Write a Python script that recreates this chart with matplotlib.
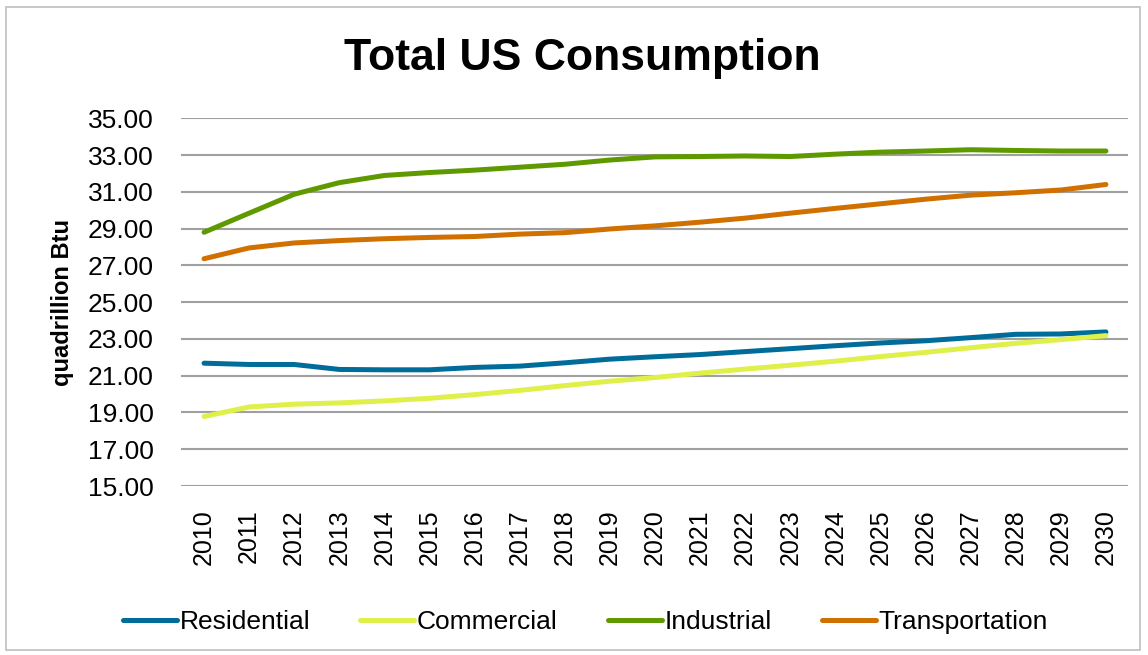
import matplotlib
matplotlib.use("Agg")
import matplotlib.pyplot as plt
from matplotlib.patches import Rectangle

# データ (quadrillion Btu)
years = [str(y) for y in range(2010, 2031)]
residential = [21.68, 21.61, 21.61, 21.34, 21.32, 21.32, 21.45, 21.52, 21.70, 21.90, 22.03,
               22.15, 22.31, 22.47, 22.63, 22.78, 22.90, 23.07, 23.25, 23.27, 23.38]
commercial = [18.78, 19.30, 19.45, 19.52, 19.63, 19.77, 19.97, 20.20, 20.46, 20.70, 20.90,
              21.14, 21.36, 21.57, 21.79, 22.04, 22.27, 22.52, 22.76, 22.96, 23.18]
industrial = [28.80, 29.84, 30.87, 31.50, 31.89, 32.05, 32.18, 32.34, 32.50, 32.73, 32.90,
              32.92, 32.95, 32.92, 33.05, 33.16, 33.22, 33.29, 33.25, 33.22, 33.22]
transportation = [27.36, 27.95, 28.22, 28.35, 28.45, 28.52, 28.57, 28.70, 28.78, 28.98, 29.15,
                  29.35, 29.57, 29.84, 30.10, 30.35, 30.60, 30.82, 30.95, 31.10, 31.40]

series = [
    ("Residential", residential, "#006C9A"),
    ("Commercial", commercial, "#E0F04A"),
    ("Industrial", industrial, "#5F9900"),
    ("Transportation", transportation, "#D07000"),
]

plt.rcParams["font.family"] = ["Liberation Sans", "DejaVu Sans"]

fig = plt.figure(figsize=(11.48, 6.55), dpi=100)
ax = fig.add_axes([0.1581, 0.258, 0.8249, 0.5614])

x = list(range(len(years)))
for name, vals, color in series:
    ax.plot(x, vals, color=color, lw=3.6, label=name, solid_capstyle="round",
            solid_joinstyle="round", clip_on=False, zorder=3)

ax.set_xlim(-0.5, len(years) - 0.5)
ax.set_ylim(15, 35)
ax.set_yticks(range(15, 36, 2))
ax.set_yticklabels([f"{v:.2f}" for v in range(15, 36, 2)], fontsize=19)
ax.set_xticks(x)
ax.set_xticklabels(years, rotation=90, fontsize=18)
ax.tick_params(axis="y", length=0, pad=20)
ax.tick_params(axis="x", length=0, pad=17)
ax.grid(axis="y", color="#A0A0A0", lw=1.5)
ax.set_axisbelow(True)
for s in ax.spines.values():
    s.set_visible(False)

ax.set_ylabel("quadrillion Btu", fontsize=17, fontweight="bold")
ax.yaxis.set_label_coords(-0.113, 0.5)

fig.text(0.507, 0.91, "Total US Consumption", fontsize=32, fontweight="bold",
         ha="center", va="center")

fig.legend(loc="center", bbox_to_anchor=(0.51, 0.05), ncol=4, frameon=False,
           fontsize=19, handlelength=2.05, handletextpad=0.1, columnspacing=1.9)

# 外枠
fig.patches.append(Rectangle((0.005, 0.008), 0.988, 0.981, transform=fig.transFigure,
                             fill=False, edgecolor="#BFBFBF", lw=1.2))

fig.savefig("out.png", dpi=100)
